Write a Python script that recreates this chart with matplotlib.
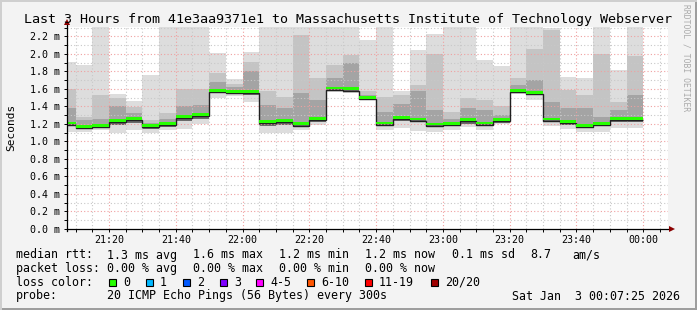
import numpy as np
import matplotlib
matplotlib.use("Agg")
import matplotlib.pyplot as plt
from matplotlib.patches import Rectangle
from matplotlib.lines import Line2D

# ---------------- data (ms) ----------------
# bar edges in minutes after 21:00 (first bar is partial, starts at 21:07:25)
bar_edges = [7 + 25 / 60] + list(range(10, 181, 5))
median = [1.206, 1.167, 1.178, 1.232, 1.255, 1.178, 1.198, 1.281, 1.304, 1.575,
          1.563, 1.563, 1.221, 1.238, 1.196, 1.257, 1.606, 1.596, 1.496, 1.206,
          1.268, 1.251, 1.194, 1.198, 1.243, 1.206, 1.243, 1.578, 1.556, 1.251,
          1.221, 1.175, 1.198, 1.255, 1.255]
ping_max = [1.91, 1.87, 2.45, 1.54, 1.46, 1.76, 2.45, 2.45, 2.45, 2.01,
            1.71, 2.02, 2.45, 2.45, 2.45, 2.45, 2.45, 2.45, 2.16, 2.45,
            1.57, 2.04, 2.23, 2.45, 2.45, 1.93, 1.86, 2.45, 2.45, 2.29,
            1.73, 1.72, 2.45, 1.81, 2.45]
ping_hi = [1.60, 1.28, 1.53, 1.49, 1.39, 1.24, 1.32, 1.60, 1.60, 1.78,
           1.66, 1.91, 1.57, 1.51, 2.21, 1.72, 1.87, 1.99, 1.57, 1.51,
           1.53, 1.64, 2.00, 1.33, 1.49, 1.47, 1.40, 1.72, 2.06, 2.27,
           1.59, 1.53, 2.00, 1.45, 1.97]
ping_mid = [1.38, 1.24, 1.26, 1.40, 1.32, 1.21, 1.26, 1.40, 1.41, 1.68,
            1.62, 1.80, 1.41, 1.38, 1.55, 1.47, 1.72, 1.89, 1.53, 1.34,
            1.43, 1.57, 1.36, 1.26, 1.38, 1.36, 1.30, 1.64, 1.70, 1.45,
            1.38, 1.38, 1.28, 1.36, 1.53]
ping_low = [1.17, 1.14, 1.15, 1.19, 1.21, 1.14, 1.16, 1.23, 1.26, 1.55,
            1.54, 1.53, 1.17, 1.19, 1.16, 1.22, 1.58, 1.57, 1.48, 1.17,
            1.23, 1.22, 1.16, 1.17, 1.20, 1.17, 1.21, 1.56, 1.53, 1.22,
            1.19, 1.16, 1.17, 1.22, 1.22]
ping_min = [1.11, 1.11, 1.13, 1.10, 1.13, 1.10, 1.13, 1.14, 1.20, 1.50,
            1.52, 1.45, 1.10, 1.10, 1.13, 1.19, 1.56, 1.55, 1.47, 1.13,
            1.15, 1.12, 1.11, 1.13, 1.16, 1.13, 1.20, 1.54, 1.47, 1.17,
            1.14, 1.11, 1.11, 1.15, 1.15]

x_tick_pos = [20, 40, 60, 80, 100, 120, 140, 160, 180]
x_tick_labels = ["21:20", "21:40", "22:00", "22:20", "22:40", "23:00", "23:20", "23:40", "00:00"]
y_ticks = [0.0, 0.2, 0.4, 0.6, 0.8, 1.0, 1.2, 1.4, 1.6, 1.8, 2.0, 2.2]
y_tick_labels = [f"{v:.1f} m" for v in y_ticks]

loss_labels = ["0", "1", "2", "3", "4-5", "6-10", "11-19", "20/20"]
loss_colors = ["#26ff00", "#00b8ff", "#0059ff", "#7e00ff", "#ff00ff", "#ff5500", "#ff0000", "#a00000"]

title = "Last 3 Hours from 41e3aa9371e1 to Massachusetts Institute of Technology Webserver"

# ---------------- figure ----------------
W, H = 697, 310
MONO = "DejaVu Sans Mono"
fig = plt.figure(figsize=(W / 100, H / 100), dpi=100, facecolor="#f3f3f3")

def fx(x):
    return x / W

def fy(y):
    return 1 - y / H

x0, x1 = 67, 668
y0, y1 = 228.8, 27.3
ax = fig.add_axes([fx(x0), fy(y0), (x1 - x0) / W, (y0 - y1) / H])
ax.set_facecolor("white")
ax.set_xlim(7 + 25 / 60, 187 + 25 / 60)
ax.set_ylim(0, 2.303)
for s in ax.spines.values():
    s.set_visible(False)

edges = np.array(bar_edges)
med = np.array(median)
# smoke
ax.stairs(ping_max, edges, baseline=ping_min, fill=True, color="#dddddd", lw=0, zorder=1)
ax.stairs(ping_hi, edges, baseline=ping_low, fill=True, color="#c4c4c4", lw=0, zorder=1.1)
ax.stairs(ping_mid, edges, baseline=ping_low, fill=True, color="#a4a4a4", lw=0, zorder=1.2)
ax.stairs(med, edges, baseline=ping_low, fill=True, color="#6a6a6a", lw=0, zorder=1.3)

# grid (drawn above smoke)
gkw = dict(lw=0.8, linestyle=(0, (1, 2)), zorder=2)
for m in np.arange(10, 188, 5):
    if m % 20 == 0:
        ax.axvline(m, color="#f0a0a0", **gkw)
    else:
        ax.axvline(m, color="#c8c8c8", **gkw)
for v in np.arange(0.1, 2.31, 0.1):
    if round(v * 10) % 2 == 0:
        ax.axhline(v, color="#f0a0a0", **gkw)
    else:
        ax.axhline(v, color="#c8c8c8", **gkw)

# median line and loss-color band
ax.stairs(med - 0.016, edges, baseline=None, color="#202020", lw=1.0, zorder=3)
ax.stairs(med + 0.020, edges, baseline=med - 0.012, fill=True, color=loss_colors[0], lw=0, zorder=4)

ax.set_xticks(x_tick_pos)
ax.set_xticklabels(x_tick_labels)
ax.set_xticks(np.arange(10, 188, 5), minor=True)
ax.set_yticks(y_ticks)
ax.set_yticklabels(y_tick_labels)
ax.set_yticks(np.arange(0.1, 2.31, 0.2), minor=True)
ax.tick_params(axis="both", which="both", direction="out", color="black", width=0.7)
ax.tick_params(axis="x", which="major", length=2, pad=2.5, labelsize=7.2)
ax.tick_params(axis="x", which="minor", length=2)
ax.tick_params(axis="y", which="major", length=2, pad=3, labelsize=7.2)
ax.tick_params(axis="y", which="minor", length=2)
for lab in ax.get_xticklabels() + ax.get_yticklabels():
    lab.set_family(MONO)

# axis lines with arrows
fig.add_artist(Line2D([fx(x0), fx(671)], [fy(y0), fy(y0)], color="black", lw=0.9))
fig.add_artist(Line2D([fx(x0), fx(x0)], [fy(y0 + 2), fy(24)], color="black", lw=0.9))
fig.add_artist(Line2D([fx(672)], [fy(y0)], marker=">", color="#8b0000", markersize=5, markeredgewidth=0))
fig.add_artist(Line2D([fx(x0)], [fy(22)], marker="^", color="#8b0000", markersize=5, markeredgewidth=0))

# title and labels
fig.text(fx(348), fy(19), title, ha="center", va="center", family=MONO, fontsize=9.65, color="black")
fig.text(fx(11), fy(127), "Seconds", rotation=90, ha="center", va="center", family=MONO, fontsize=8, color="black")
fig.text(fx(686), fy(58), "RRDTOOL / TOBI OETIKER", rotation=270, ha="center", va="center",
         family=MONO, fontsize=5.8, color="#aaaaaa")

LF = 8.4
def t(x, y, s, ha="left"):
    fig.text(fx(x), fy(y), s, ha=ha, va="center", family=MONO, fontsize=LF, color="black")

r1, r2, r3, r4 = 255, 268.5, 282, 296
t(16, r1, "median rtt:")
t(107, r1, "1.3 ms avg")
t(193, r1, "1.6 ms max")
t(279, r1, "1.2 ms min")
t(365, r1, "1.2 ms now")
t(452, r1, "0.1 ms sd")
t(530, r1, "8.7")
t(572, r1, "am/s")

t(16, r2, "packet loss:")
t(107, r2, "0.00 % avg")
t(193, r2, "0.00 % max")
t(279, r2, "0.00 % min")
t(365, r2, "0.00 % now")

t(16, r3, "loss color:")
box_x = [109, 146, 183, 220, 256, 307, 365, 431]
for bx, lab, col in zip(box_x, loss_labels, loss_colors):
    fig.add_artist(Rectangle((fx(bx), fy(r3 + 4)), 7 / W, 7 / H, transform=fig.transFigure,
                             facecolor=col, edgecolor="black", lw=0.8))
    t(bx + 14, r3, lab)

t(16, r4, "probe:")
t(107, r4, "20 ICMP Echo Pings (56 Bytes) every 300s")
t(680, r4, "Sat Jan  3 00:07:25 2026", ha="right")

# outer frame
fig.add_artist(Rectangle((0, 0), 1, 2 / H, transform=fig.transFigure, facecolor="#9e9e9e", lw=0))
fig.add_artist(Rectangle((1 - 2 / W, 0), 2 / W, 1, transform=fig.transFigure, facecolor="#9e9e9e", lw=0))
fig.add_artist(Rectangle((0, 1 - 2 / H), 1, 2 / H, transform=fig.transFigure, facecolor="#cfcfcf", lw=0))
fig.add_artist(Rectangle((0, 0), 2 / W, 1, transform=fig.transFigure, facecolor="#cfcfcf", lw=0))

fig.savefig("out.png", dpi=100, facecolor=fig.get_facecolor())
